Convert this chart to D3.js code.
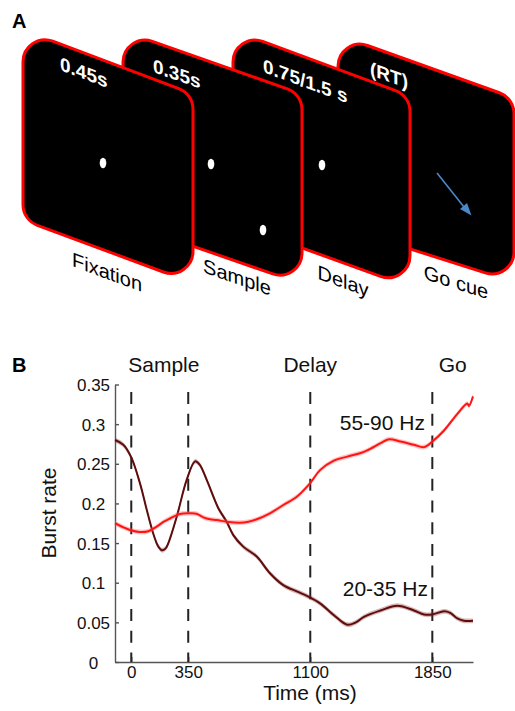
<!DOCTYPE html>
<html>
<head>
<meta charset="utf-8">
<script src="https://cdn.jsdelivr.net/npm/d3@7"></script>
<style>
body { margin: 0; background: #fff; }
svg { display: block; font-family: "Liberation Sans", Arial, Helvetica, sans-serif; }
</style>
</head>
<body>
<div id="container"></div>
<script>
/* DATA */
// panel A - task epochs
const stageNames = ["Fixation", "Sample", "Delay", "Go cue"];
const stageDurations = ["0.45s", "0.35s", "0.75/1.5 s", "(RT)"];

// panel B - burst rate over time (ms)
const eventTimes = [0, 350, 1100, 1850];
const eventNames = ["Sample", "Delay", "Go"];
const yTicks = [0, 0.05, 0.1, 0.15, 0.2, 0.25, 0.3, 0.35];

// 20-35 Hz (beta)
const betaTime = [-100, -49, 0, 54, 95, 135, 165, 187, 210, 228, 279, 341, 392, 420, 463, 535, 586, 627, 688, 771, 852, 934, 1017, 1088, 1160, 1245, 1327, 1380, 1430, 1532, 1635, 1737, 1799, 1850, 1922, 1960, 2004, 2045, 2100];
const betaRate = [0.280, 0.274, 0.258, 0.225, 0.192, 0.162, 0.146, 0.141, 0.143, 0.150, 0.183, 0.230, 0.253, 0.249, 0.230, 0.194, 0.177, 0.160, 0.1455, 0.133, 0.112, 0.097, 0.089, 0.0825, 0.074, 0.059, 0.047, 0.050, 0.057, 0.065, 0.071, 0.065, 0.060, 0.060, 0.064, 0.062, 0.055, 0.052, 0.052];

// 55-90 Hz (gamma)
const gammaTime = [-100, -50, -8, 50, 105, 156, 200, 238, 299, 361, 400, 443, 484, 525, 600, 668, 720, 771, 852, 934, 1017, 1098, 1160, 1245, 1327, 1400, 1450, 1532, 1584, 1655, 1737, 1799, 1850, 1922, 2004, 2065, 2075, 2100];
const gammaRate = [0.175, 0.170, 0.1665, 0.164, 0.165, 0.1707, 0.177, 0.181, 0.1867, 0.1875, 0.187, 0.1825, 0.180, 0.179, 0.1765, 0.1757, 0.177, 0.180, 0.1875, 0.198, 0.2085, 0.2254, 0.242, 0.254, 0.259, 0.263, 0.267, 0.276, 0.281, 0.278, 0.274, 0.271, 0.278, 0.292, 0.313, 0.326, 0.323, 0.335];

const W = 515, H = 711;

const svg = d3.select("#container")
  .append("svg")
  .attr("width", W)
  .attr("height", H);

/* PANEL A */
svg.append("text").text("A")
  .attr("x", 12).attr("y", 28)
  .attr("font-size", 20).attr("font-weight", "bold");

// screen corners TL, TR, BR, BL (perspective quads)
const screens = [
  {pts: [[23, 30], [193, 94], [193, 283], [23, 220]], top: 0.376, bot: 0.37, dur: [60, 70], lab: [107, 279]},
  {pts: [[123, 31], [302, 94], [302, 284], [123, 222]], top: 0.35, bot: 0.346, dur: [153, 72], lab: [237, 284]},
  {pts: [[233, 30.5], [410, 96], [410, 287], [233, 223]], top: 0.369, bot: 0.362, dur: [263, 72], lab: [343, 288]},
  {pts: [[338, 35], [514, 98], [514, 282], [338, 226]], top: 0.36, bot: 0.318, dur: [370, 75], lab: [456, 289]}
];

function roundedQuad(pts, r) {
  const p = d3.path();
  const n = pts.length;
  p.moveTo((pts[n - 1][0] + pts[0][0]) / 2, (pts[n - 1][1] + pts[0][1]) / 2);
  for (let i = 0; i < n; i++) {
    const c = pts[i], nx = pts[(i + 1) % n];
    p.arcTo(c[0], c[1], nx[0], nx[1], r);
  }
  p.closePath();
  return p.toString();
}

const deg = s => Math.atan(s) * 180 / Math.PI;

function dot(g, cx, cy) {
  g.append("ellipse")
    .attr("cx", cx).attr("cy", cy)
    .attr("rx", 3.3).attr("ry", 5.3)
    .attr("fill", "#fff");
}

// back to front so the first screen sits on top
const order = [3, 2, 1, 0];
order.forEach(i => {
  const s = screens[i];
  const g = svg.append("g");
  g.append("path")
    .attr("d", roundedQuad(s.pts, 22))
    .attr("fill", "#000")
    .attr("stroke", "#ff0000")
    .attr("stroke-width", 3);
  g.append("text")
    .text(stageDurations[i])
    .attr("transform", `translate(${s.dur[0]},${s.dur[1]}) skewY(${deg(s.top)})`)
    .attr("fill", "#fff")
    .attr("font-size", 19)
    .attr("font-weight", "bold");
  g.append("text")
    .text(stageNames[i])
    .attr("transform", `translate(${s.lab[0]},${s.lab[1]}) skewY(${deg(s.bot)})`)
    .attr("text-anchor", "middle")
    .attr("fill", "#000")
    .attr("font-size", 20);

  // stimuli
  if (i === 0) dot(g, 103, 163);
  if (i === 1) { dot(g, 211, 164); dot(g, 263, 230); }
  if (i === 2) dot(g, 322, 165);
  if (i === 3) {
    g.append("line")
      .attr("x1", 437).attr("y1", 173).attr("x2", 464).attr("y2", 207)
      .attr("stroke", "#4a88c9").attr("stroke-width", 1.6);
    g.append("path")
      .attr("d", "M471.5,215.5 L460,209 L467,203 Z")
      .attr("fill", "#4a88c9");
  }
});

/* PANEL B */
svg.append("text").text("B")
  .attr("x", 12).attr("y", 372)
  .attr("font-size", 20).attr("font-weight", "bold");

const xScale = d3.scaleLinear().domain([-100, 2100]).range([115, 473]);
const yScale = d3.scaleLinear().domain([0, 0.35]).range([662, 384.5]);

// axes
const yAxis = svg.append("g")
  .attr("transform", `translate(${xScale.range()[0]},0)`)
  .call(d3.axisLeft(yScale).tickValues(yTicks)
    .tickFormat(d => String(+d.toFixed(2)))
    .tickSizeInner(-4).tickSizeOuter(0));
yAxis.selectAll("text")
  .attr("text-anchor", "middle")
  .attr("x", -21.5)
  .attr("dy", "0.36em");

const xAxis = svg.append("g")
  .attr("transform", `translate(0,${yScale(0)})`)
  .call(d3.axisBottom(xScale).tickValues(eventTimes)
    .tickFormat(d3.format("d"))
    .tickSizeInner(-5).tickSizeOuter(0).tickPadding(4));

[yAxis, xAxis].forEach(a => {
  a.select(".domain").attr("stroke", "#555").attr("stroke-width", 1.4);
  a.selectAll(".tick line").attr("stroke", "#555").attr("stroke-width", 1.4);
  a.selectAll("text").attr("font-size", 17).attr("fill", "#111")
    .attr("font-family", "Liberation Sans, Arial, sans-serif");
});

// dashed event lines
svg.selectAll(".event")
  .data(eventTimes)
  .join("line")
  .attr("class", "event")
  .attr("x1", d => xScale(d)).attr("x2", d => xScale(d))
  .attr("y1", 392).attr("y2", yScale(0))
  .attr("stroke", "#222")
  .attr("stroke-width", 2)
  .attr("stroke-dasharray", "12,9.7");

// event names
const eventLabelX = [200, 1100, 1975];
svg.selectAll(".eventName")
  .data(eventNames)
  .join("text")
  .attr("class", "eventName")
  .attr("x", (d, i) => xScale(eventLabelX[i]))
  .attr("y", 372)
  .attr("text-anchor", "middle")
  .attr("font-size", 21)
  .attr("fill", "#111")
  .text(d => d);

// curves with sem bands
const series = [
  {time: betaTime, rate: betaRate, color: "#5e0c0c", band: "rgba(140,50,50,0.35)"},
  {time: gammaTime, rate: gammaRate, color: "#ff1414", band: "rgba(255,90,90,0.35)"}
];

series.forEach(s => {
  const pts = s.time.map((t, i) => [t, s.rate[i]]);
  const area = d3.area()
    .x(d => xScale(d[0]))
    .y0(d => yScale(d[1] - 0.003))
    .y1(d => yScale(d[1] + 0.003))
    .curve(d3.curveCatmullRom);
  const line = d3.line()
    .x(d => xScale(d[0]))
    .y(d => yScale(d[1]))
    .curve(d3.curveCatmullRom);
  svg.append("path").attr("d", area(pts)).attr("fill", s.band);
  svg.append("path").attr("d", line(pts))
    .attr("fill", "none").attr("stroke", s.color).attr("stroke-width", 2);
});

// band labels
svg.append("text").text("55-90 Hz")
  .attr("x", xScale(1805)).attr("y", yScale(0.292))
  .attr("text-anchor", "end").attr("font-size", 21).attr("fill", "#111");
svg.append("text").text("20-35 Hz")
  .attr("x", xScale(1823)).attr("y", yScale(0.083))
  .attr("text-anchor", "end").attr("font-size", 21).attr("fill", "#111");

// axis titles
svg.append("text").text("Burst rate")
  .attr("transform", "translate(56,513) rotate(-90)")
  .attr("text-anchor", "middle").attr("font-size", 21).attr("fill", "#111");
svg.append("text").text("Time (ms)")
  .attr("x", 310).attr("y", 700)
  .attr("text-anchor", "middle").attr("font-size", 21).attr("fill", "#111");
</script>
</body>
</html>
